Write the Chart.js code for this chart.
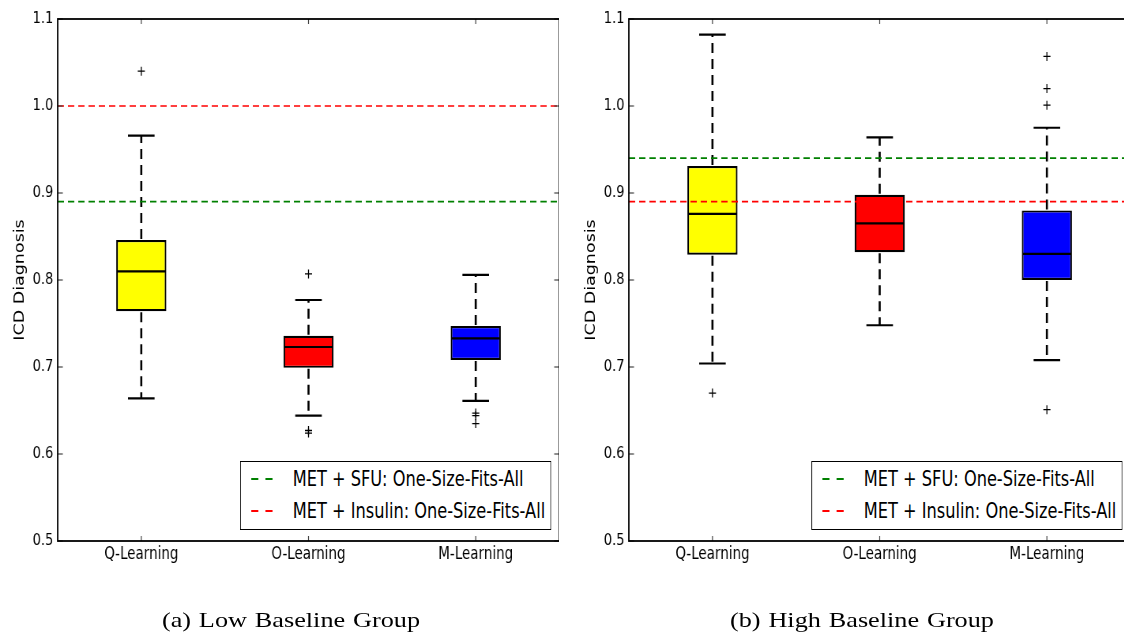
<!DOCTYPE html>
<html><head><meta charset="utf-8">
<script src="https://cdn.jsdelivr.net/npm/chart.js@4/dist/chart.umd.min.js"></script>
<style>
html,body{margin:0;padding:0;background:#fff;overflow:hidden;width:1124px;height:635px;}
#stage{position:absolute;left:0;top:0;width:1460px;height:635px;transform-origin:0 0;transform:scaleX(0.79);}
#stage canvas{position:absolute;top:0;}
.legend{position:absolute;box-sizing:border-box;border:1.6px solid #000;background:#fff;width:394px;height:69px;font-family:"DejaVu Sans";font-size:20.5px;color:#000;}
.legend .row{position:absolute;left:0;right:0;height:30px;}
.legend .txt{position:absolute;left:66px;top:0;line-height:30px;white-space:nowrap;}
.caption{position:absolute;top:607px;width:400px;text-align:center;font-family:"Liberation Serif";font-size:21px;word-spacing:1px;line-height:26px;color:#000;white-space:nowrap;transform:scaleX(1.25);transform-origin:50% 50%;}
</style></head>
<body>
<div id="stage">
  <canvas id="c1" width="708" height="570" style="left:0px"></canvas>
  <canvas id="c2" width="708" height="570" style="left:723px"></canvas>
</div>
<div class="caption" style="left:91px">(a) Low Baseline Group</div>
<div class="caption" style="left:662px">(b) High Baseline Group</div>
<script>
const categories = ['Q-Learning', 'O-Learning', 'M-Learning'];
const yTickValues = [0.5, 0.6, 0.7, 0.8, 0.9, 1.0, 1.1];
const boxColors = ['#ffff00', '#ff0000', '#0000ff'];
const refLabels = ['MET + SFU: One-Size-Fits-All', 'MET + Insulin: One-Size-Fits-All'];
const refColors = ['#008000', '#ff0000'];
const yTitle = 'ICD Diagnosis';

// (a) Low Baseline Group
const lowWhiskerLo = [0.664, 0.644, 0.661];
const lowQ1 = [0.764, 0.699, 0.708];
const lowMedian = [0.810, 0.723, 0.733];
const lowQ3 = [0.846, 0.736, 0.747];
const lowWhiskerHi = [0.966, 0.777, 0.806];
const lowOutliers = [[1.040], [0.807, 0.627, 0.624], [0.647, 0.644, 0.635]];
const lowRef = [0.89, 1.0];

// (b) High Baseline Group
const highWhiskerLo = [0.704, 0.748, 0.708];
const highQ1 = [0.829, 0.832, 0.800];
const highMedian = [0.876, 0.865, 0.830];
const highQ3 = [0.931, 0.898, 0.880];
const highWhiskerHi = [1.082, 0.964, 0.975];
const highOutliers = [[0.670], [], [1.057, 1.020, 1.001, 0.651]];
const highRef = [0.94, 0.89];

const boxPartsPlugin = {
  id: 'boxparts',
  afterDatasetDraw(chart, args) {
    const ds = chart.data.datasets[args.index];
    if (!ds.boxStats) return;
    const st = ds.boxStats;
    const ys = chart.scales.y;
    const ctx = chart.ctx;
    const seg = (x1, y1, x2, y2) => { ctx.beginPath(); ctx.moveTo(x1, y1); ctx.lineTo(x2, y2); ctx.stroke(); };
    ctx.save();
    ctx.strokeStyle = '#000';
    args.meta.data.forEach((bar, i) => {
      const cx = bar.x, half = bar.width / 2, capHalf = half * 0.53;
      const pMed = ys.getPixelForValue(st.med[i]);
      const pQ1 = ys.getPixelForValue(st.q1[i]);
      const pQ3 = ys.getPixelForValue(st.q3[i]);
      const pLo = ys.getPixelForValue(st.lo[i]);
      const pHi = ys.getPixelForValue(st.hi[i]);
      ctx.setLineDash([]); ctx.lineWidth = 2.2;
      seg(cx - half + 1, pMed, cx + half - 1, pMed);
      ctx.setLineDash([10, 6]); ctx.lineWidth = 2.6;
      seg(cx, pQ3 - 1, cx, pHi);
      seg(cx, pQ1 + 1, cx, pLo);
      ctx.setLineDash([]); ctx.lineWidth = 2.2;
      seg(cx - capHalf, pHi, cx + capHalf, pHi);
      seg(cx - capHalf, pLo, cx + capHalf, pLo);
    });
    ctx.restore();
  }
};

const framePlugin = {
  id: 'frame',
  afterDraw(chart) {
    const {ctx, chartArea: a, scales} = chart;
    ctx.save();
    ctx.strokeStyle = '#444';
    ctx.lineWidth = 1.2;
    scales.y.ticks.forEach(t => {
      const py = scales.y.getPixelForValue(t.value);
      ctx.beginPath(); ctx.moveTo(a.left, py); ctx.lineTo(a.left + 6.5, py); ctx.stroke();
      ctx.beginPath(); ctx.moveTo(a.right, py); ctx.lineTo(a.right - 6.5, py); ctx.stroke();
    });
    scales.x.ticks.forEach((t, i) => {
      const px = scales.x.getPixelForTick(i);
      ctx.beginPath(); ctx.moveTo(px, a.top); ctx.lineTo(px, a.top + 5); ctx.stroke();
      ctx.beginPath(); ctx.moveTo(px, a.bottom); ctx.lineTo(px, a.bottom - 5); ctx.stroke();
    });
    ctx.strokeStyle = '#000';
    ctx.lineWidth = 1.8;
    ctx.strokeRect(a.left, a.top, a.right - a.left, a.bottom - a.top);
    ctx.restore();
  }
};

function buildChart(canvasId, canvasLeft, lo, q1, med, q3, hi, outs, refVals) {
  const outlierPts = [];
  outs.forEach((arr, i) => arr.forEach(v => outlierPts.push({x: categories[i], y: v})));
  const datasets = [
    {
      type: 'bar', label: 'box', xAxisID: 'x', yAxisID: 'y',
      data: categories.map((c, i) => [q1[i], q3[i]]),
      backgroundColor: boxColors, borderColor: '#000', borderWidth: 2.2, borderSkipped: false,
      barPercentage: 0.3, categoryPercentage: 1, grouped: false, order: 3,
      boxStats: {lo, q1, med, q3, hi}
    },
    {
      type: 'line', label: 'outliers', xAxisID: 'x', yAxisID: 'y',
      data: outlierPts, showLine: false, pointStyle: 'cross', pointRadius: 4.5,
      borderColor: '#000', backgroundColor: '#000', pointBorderWidth: 1.3, order: 0
    }
  ];
  refVals.forEach((v, k) => datasets.push({
    type: 'line', label: refLabels[k], xAxisID: 'xr', yAxisID: 'y',
    data: [{x: 0, y: v}, {x: 1, y: v}],
    borderColor: refColors[k], borderWidth: 1.7, borderDash: [8, 5], pointRadius: 0, fill: false, order: 1
  }));
  const chart = new Chart(document.getElementById(canvasId), {
    data: {labels: categories, datasets},
    options: {
      responsive: false, animation: false, events: [],
      layout: {autoPadding: false, padding: {top: 19, right: 0, bottom: 0, left: 0}},
      plugins: {legend: {display: false}, tooltip: {enabled: false}},
      scales: {
        x: {
          type: 'category', offset: true,
          grid: {display: false, drawTicks: false, tickLength: 0}, border: {display: false},
          ticks: {color: '#000', font: {family: 'DejaVu Sans', size: 17}, padding: 3, maxRotation: 0},
          afterFit: s => { s.height = 29; }
        },
        y: {
          type: 'linear', min: 0.5, max: 1.1,
          grid: {display: false, drawTicks: false, tickLength: 0}, border: {display: false},
          ticks: {stepSize: 0.1, color: '#000', font: {family: 'DejaVu Sans', size: 16.5}, padding: 5.5,
                  callback: v => Number(v).toFixed(1)},
          title: {display: true, text: yTitle, color: '#000', font: {family: 'DejaVu Sans', size: 17.5}, padding: {top: 14.8, bottom: 0}},
          afterBuildTicks: s => { s.ticks = yTickValues.map(v => ({value: v})); },
          afterFit: s => { s.width = 73; }
        },
        xr: {type: 'linear', min: 0, max: 1, display: false}
      }
    },
    plugins: [boxPartsPlugin, framePlugin]
  });
  // HTML legend for the reference lines, placed at lower right inside the plot frame
  const a = chart.chartArea;
  const lg = document.createElement('div');
  lg.className = 'legend';
  lg.style.left = (canvasLeft + a.right - 10.5 - 394) + 'px';
  lg.style.top = (a.bottom - 11 - 69) + 'px';
  refLabels.forEach((lab, k) => {
    const row = document.createElement('div');
    row.className = 'row';
    row.style.top = (1.5 + k * 32) + 'px';
    [13.5, 31].forEach(dx => {
      const d = document.createElement('div');
      d.style.cssText = 'position:absolute;top:14px;height:2px;width:9px;left:' + dx + 'px;background-color:' + refColors[k] + ';';
      row.appendChild(d);
    });
    const t = document.createElement('div');
    t.className = 'txt';
    t.textContent = lab;
    row.appendChild(t);
    lg.appendChild(row);
  });
  document.getElementById('stage').appendChild(lg);
  return chart;
}

buildChart('c1', 0, lowWhiskerLo, lowQ1, lowMedian, lowQ3, lowWhiskerHi, lowOutliers, lowRef);
buildChart('c2', 723, highWhiskerLo, highQ1, highMedian, highQ3, highWhiskerHi, highOutliers, highRef);
</script>
</body></html>
